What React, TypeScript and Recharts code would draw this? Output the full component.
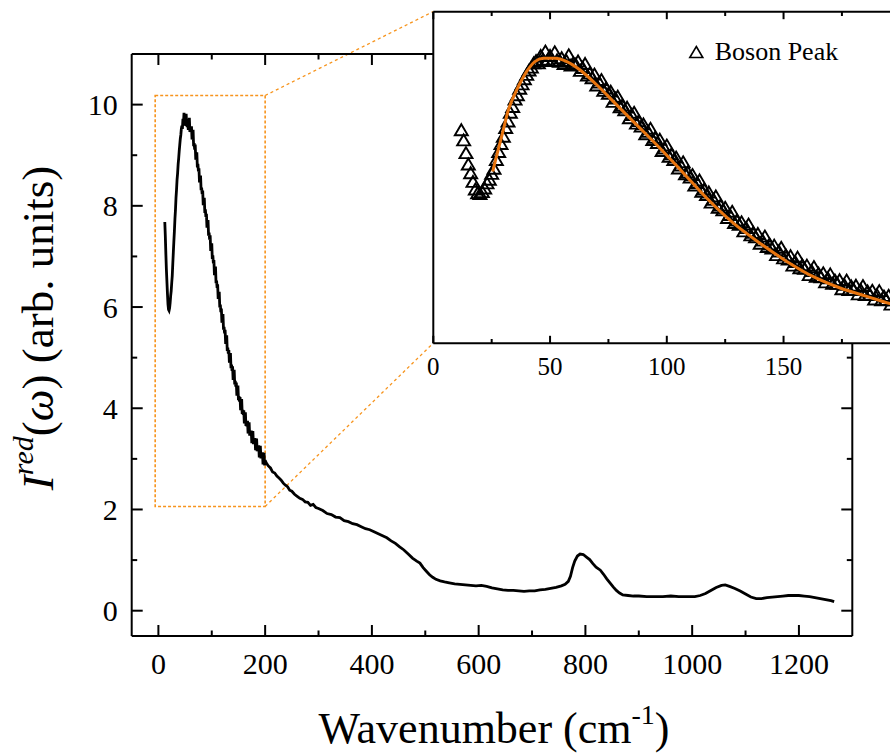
import {
  LineChart,
  ComposedChart,
  Line,
  Scatter,
  XAxis,
  YAxis,
  ReferenceArea,
  ReferenceLine,
  CartesianGrid,
  Legend,
} from 'recharts';

// Reduced Raman intensity, boson peak region (inset triangles + low part of main curve)
const bosonWavenumber = [
  12, 13, 14, 15, 16, 17, 18, 19, 20, 21, 22, 23, 24, 25, 26, 27, 28, 29, 30, 31,
  32, 33, 34, 35, 36, 37, 38, 39, 40, 41, 42, 43, 44, 45, 46, 47, 48, 49, 50, 51,
  52, 53, 54, 55, 56, 57, 58, 59, 60, 61, 62, 63, 64, 65, 66, 67, 68, 69, 70, 71,
  72, 73, 74, 75, 76, 77, 78, 79, 80, 81, 82, 83, 84, 85, 86, 87, 88, 89, 90, 91,
  92, 93, 94, 95, 96, 97, 98, 99, 100, 101, 102, 103, 104, 105, 106, 107, 108, 109,
  110, 111, 112, 113, 114, 115, 116, 117, 118, 119, 120, 121, 122, 123, 124, 125,
  126, 127, 128, 129, 130, 131, 132, 133, 134, 135, 136, 137, 138, 139, 140, 141,
  142, 143, 144, 145, 146, 147, 148, 149, 150, 151, 152, 153, 154, 155, 156, 157,
  158, 159, 160, 161, 162, 163, 164, 165, 166, 167, 168, 169, 170, 171, 172, 173,
  174, 175, 176, 177, 178, 179, 180, 181, 182, 183, 184, 185, 186, 187, 188, 189,
  190, 191, 192, 193, 194, 195, 196, 197, 198, 199, 200,
];
const bosonIntensity = [
  7.68, 7.4, 7.05, 6.74, 6.5, 6.26, 6.05, 5.95, 5.93, 5.98, 6.08, 6.22, 6.32, 6.48,
  6.62, 6.86, 7.08, 7.3, 7.5, 7.74, 7.92, 8.16, 8.32, 8.52, 8.64, 8.82, 8.94, 9.08,
  9.2, 9.32, 9.4, 9.52, 9.58, 9.52, 9.72, 9.62, 9.84, 9.6, 9.72, 9.58, 9.82, 9.6,
  9.56, 9.66, 9.5, 9.58, 9.74, 9.46, 9.52,
  9.48, 9.57, 9.31, 9.39, 9.5, 9.18, 9.24, 9.11, 9.21, 8.91, 8.99, 9.06, 8.76, 8.83,
  8.68, 8.74, 8.46, 8.55, 8.6, 8.31, 8.36, 8.23, 8.3, 8.01, 8.1, 8.16, 7.86, 7.93,
  7.78, 7.84, 7.57, 7.64, 7.72, 7.41, 7.47, 7.33, 7.42, 7.11, 7.18, 7.26, 6.95, 7.02,
  6.86, 6.93, 6.63, 6.71, 6.8, 6.47, 6.52, 6.38, 6.45, 6.16, 6.23, 6.3, 5.99, 6.05,
  5.9, 5.97, 5.69, 5.77, 5.86, 5.55, 5.61, 5.48, 5.55, 5.27, 5.35, 5.44, 5.13, 5.2,
  5.08, 5.15, 4.9, 4.99, 5.09, 4.79, 4.86, 4.74, 4.83, 4.56, 4.65, 4.76, 4.47, 4.54,
  4.43, 4.51, 4.25, 4.35, 4.45, 4.16, 4.24, 4.13, 4.22, 3.96, 4.06, 4.18, 3.89, 3.97,
  3.87, 3.96, 3.7, 3.81, 3.92, 3.65, 3.74, 3.64, 3.75, 3.5, 3.61, 3.72, 3.46, 3.55,
  3.46, 3.56, 3.31, 3.43, 3.55, 3.29, 3.39, 3.3, 3.41, 3.17, 3.29, 3.4, 3.15, 3.25,
  3.16, 3.27, 3.03, 3.15, 3.26, 3.01, 3.11, 3.02, 3.13, 2.89, 3.01, 3.12, 2.87, 2.97,
];

// Rest of the spectrum (main curve above 200 cm-1)
const tailWavenumber = [
  202, 206, 210, 214, 218, 222, 226, 230, 234, 238, 242, 246, 250, 255, 260, 265,
  270, 275, 280, 285, 290, 295, 300, 308, 316, 324, 332, 340, 348, 356, 364, 372,
  380, 388, 396, 404, 412, 420, 428, 436, 444, 452, 460, 468, 476, 484, 490, 496,
  502, 508, 514, 520, 528, 536, 545, 555, 565, 575, 585, 595, 605, 615, 625, 635,
  645, 655, 665, 675, 685, 695, 705, 715, 725, 735, 745, 755, 762, 768, 772, 776,
  780, 785, 790, 796, 802, 808, 814, 820, 828, 834, 840, 846, 852, 858, 864, 870,
  880, 890, 900, 915, 930, 945, 960, 975, 990, 1005, 1015, 1025, 1035, 1045, 1055,
  1062, 1070, 1080, 1090, 1100, 1110, 1120, 1130, 1140, 1150, 1160, 1170, 1180,
  1190, 1200, 1210, 1220, 1230, 1240, 1250, 1260, 1266,
];
const tailIntensity = [
  2.92, 2.86, 2.82, 2.74, 2.72, 2.66, 2.62, 2.58, 2.52, 2.48, 2.45, 2.38, 2.36, 2.3,
  2.26, 2.22, 2.2, 2.15, 2.14, 2.08, 2.1, 2.04, 2.02, 1.98, 1.92, 1.9, 1.85, 1.84,
  1.78, 1.76, 1.72, 1.7, 1.66, 1.62, 1.6, 1.56, 1.52, 1.48, 1.44, 1.38, 1.33, 1.26,
  1.2, 1.12, 1.04, 0.98, 0.94, 0.85, 0.78, 0.71, 0.66, 0.62, 0.59, 0.57, 0.55, 0.53,
  0.52, 0.51, 0.5, 0.49, 0.5, 0.48, 0.45, 0.43, 0.41, 0.4, 0.4, 0.39, 0.38, 0.39,
  0.39, 0.41, 0.42, 0.44, 0.46, 0.49, 0.52, 0.58, 0.68, 0.85, 0.98, 1.08, 1.12, 1.11,
  1.06, 1.01, 0.93, 0.86, 0.8, 0.72, 0.63, 0.55, 0.47, 0.4, 0.35, 0.31, 0.3, 0.29,
  0.29, 0.28, 0.28, 0.28, 0.29, 0.28, 0.28, 0.28, 0.3, 0.34, 0.4, 0.46, 0.5, 0.51,
  0.48, 0.44, 0.39, 0.33, 0.27, 0.24, 0.24, 0.26, 0.27, 0.28, 0.29, 0.3, 0.3, 0.3,
  0.29, 0.28, 0.26, 0.24, 0.22, 0.2, 0.18,
];

// Boson peak fit (orange line in the inset)
const fitWavenumber = [
  25.5, 27, 28.6, 30.5, 32.2, 34, 35.8, 38, 40.1, 43.6, 47.2, 52.2, 57.3, 63, 70,
  78.7, 87.3, 97.3, 107.3, 117.3, 128.8, 140.2, 151.7, 163.1, 174.6, 186, 196, 200,
];
const fitIntensity = [
  6.56, 6.95, 7.34, 7.82, 8.25, 8.55, 8.8, 9.08, 9.31, 9.58, 9.67, 9.67, 9.58, 9.35,
  8.95, 8.39, 7.84, 7.2, 6.52, 5.83, 5.14, 4.59, 4.09, 3.67, 3.36, 3.13, 2.93, 2.86,
];

// axis ticks
const mainXTicks = [0, 100, 200, 300, 400, 500, 600, 700, 800, 900, 1000, 1100, 1200];
const mainXLabels = [0, 200, 400, 600, 800, 1000, 1200];
const mainYTicks = [0, 1, 2, 3, 4, 5, 6, 7, 8, 9, 10];
const mainYLabels = [0, 2, 4, 6, 8, 10];
const insetXTicks = [0, 25, 50, 75, 100, 125, 150, 175];
const insetXLabels = [0, 50, 100, 150];

// zoom box drawn on the main chart and where the inset sits (main data units)
const zoomBox = { x1: -6, x2: 200, y1: 2.06, y2: 10.18 };
const insetCorner = { x: 515.3, yTop: 11.84, yBottom: 5.29 };

const bosonData = bosonWavenumber.map((x, i) => ({ x, y: bosonIntensity[i] }));
const tailData = tailWavenumber.map((x, i) => ({ x, y: tailIntensity[i] }));
const mainData = [...bosonData, ...tailData];
const fitData = fitWavenumber.map((x, i) => ({ x, y: fitIntensity[i] }));

const FONT = '"Liberation Serif", "Times New Roman", serif';
const FIT_ORANGE = '#E8740E';
const BOX_ORANGE = '#F7941D';

const INSET_W = 520;
const INSET_H = 400;
const INSET_MARGIN = { top: 11.7, right: 23.7, bottom: 56.7, left: 30.3 };
const INSET_X_DOMAIN: [number, number] = [0, 200];
const INSET_Y_DOMAIN: [number, number] = [1.84, 10.95];

type Side = 'bottom' | 'top' | 'left' | 'right';

// inward ticks with major/minor lengths, labels only on major ticks
function makeTick(
  side: Side,
  labeled: number[],
  majorLen: number,
  minorLen: number,
  fontSize: number,
  showLabels: boolean,
) {
  return (p: any) => {
    const x = p.x as number;
    const y = p.y as number;
    const v = p.payload.value as number;
    const major = labeled.includes(v);
    const len = major ? majorLen : minorLen;
    let line;
    let label = null;
    if (side === 'bottom') {
      line = <line x1={x} y1={y} x2={x} y2={y - len} />;
      if (showLabels && major)
        label = (
          <text x={x} y={y + fontSize * 1.27} textAnchor="middle">
            {v}
          </text>
        );
    } else if (side === 'top') {
      line = <line x1={x} y1={y} x2={x} y2={y + len} />;
    } else if (side === 'left') {
      line = <line x1={x} y1={y} x2={x + len} y2={y} />;
      if (showLabels && major)
        label = (
          <text x={x - 14} y={y + 10.5} textAnchor="end">
            {v}
          </text>
        );
    } else {
      line = <line x1={x} y1={y} x2={x - len} y2={y} />;
    }
    return (
      <g>
        <g stroke="#000" strokeWidth={2}>{line}</g>
        {label && (
          <g fontFamily={FONT} fontSize={fontSize} fill="#000" stroke="none">
            {label}
          </g>
        )}
      </g>
    );
  };
}

const axisLine = { stroke: '#000', strokeWidth: 2 };

function XTitle(props: any) {
  const vb = props.viewBox;
  return (
    <text
      x={vb.x + vb.width / 2 + 2}
      y={vb.y + 107}
      textAnchor="middle"
      fontFamily={FONT}
      fontSize={44}
      fill="#000"
    >
      Wavenumber (cm
      <tspan fontSize={28} dy={-19}>
        -1
      </tspan>
      <tspan dy={19}>)</tspan>
    </text>
  );
}

function YTitle(props: any) {
  const vb = props.viewBox;
  const cx = vb.x + vb.width - 79;
  const cy = vb.y + vb.height / 2 - 17;
  return (
    <text
      transform={`translate(${cx}, ${cy}) rotate(-90)`}
      textAnchor="middle"
      fontFamily={FONT}
      fontSize={45}
      fill="#000"
    >
      <tspan fontStyle="italic">I</tspan>
      <tspan fontStyle="italic" fontSize={30} dy={-20}>
        red
      </tspan>
      <tspan dy={20}>(</tspan>
      <tspan fontStyle="italic">ω</tspan>
      <tspan>) (arb. units)</tspan>
    </text>
  );
}

function Triangle(props: any) {
  const { cx, cy } = props;
  return (
    <path
      d={`M${cx},${cy - 6.5}L${cx + 6.5},${cy + 4.5}L${cx - 6.5},${cy + 4.5}Z`}
      fill="none"
      stroke="#000"
      strokeWidth={1.9}
    />
  );
}

function BosonLegend() {
  return (
    <svg width={170} height={30} style={{ display: 'block' }}>
      <path d="M13.3,8.5L19.8,19.5L6.8,19.5Z" fill="none" stroke="#000" strokeWidth={1.6} />
      <text x={31.7} y={22} fontFamily={FONT} fontSize={26} fill="#000">
        Boson Peak
      </text>
    </svg>
  );
}

// axes are given 1px so recharts draws them; ticks sit on the axis line
function MainChart() {
  return (
    <LineChart
      width={890}
      height={756}
      data={mainData}
      margin={{ top: 53, right: 36.7, bottom: 119, left: 130.7 }}
    >
      <XAxis
        dataKey="x"
        type="number"
        domain={[-50, 1300]}
        allowDataOverflow
        ticks={mainXTicks}
        interval={0}
        height={1}
        tickSize={0}
        tickMargin={0}
        tickLine={false}
        axisLine={axisLine}
        tick={makeTick('bottom', mainXLabels, 11, 5.5, 30, true)}
        label={{ content: XTitle }}
      />
      <XAxis
        xAxisId="top"
        orientation="top"
        dataKey="x"
        type="number"
        domain={[-50, 1300]}
        allowDataOverflow
        ticks={mainXTicks}
        interval={0}
        height={1}
        tickSize={0}
        tickMargin={0}
        tickLine={false}
        axisLine={axisLine}
        tick={makeTick('top', mainXLabels, 11, 5.5, 30, false)}
      />
      <YAxis
        type="number"
        domain={[-0.5, 11]}
        allowDataOverflow
        ticks={mainYTicks}
        interval={0}
        width={1}
        tickSize={0}
        tickMargin={0}
        tickLine={false}
        axisLine={axisLine}
        tick={makeTick('left', mainYLabels, 11, 5.5, 30, true)}
        label={{ content: YTitle }}
      />
      <YAxis
        yAxisId="right"
        orientation="right"
        type="number"
        domain={[-0.5, 11]}
        allowDataOverflow
        ticks={mainYTicks}
        interval={0}
        width={1}
        tickSize={0}
        tickMargin={0}
        tickLine={false}
        axisLine={axisLine}
        tick={makeTick('right', mainYLabels, 11, 5.5, 30, false)}
      />
      <ReferenceArea
        x1={zoomBox.x1}
        x2={zoomBox.x2}
        y1={zoomBox.y1}
        y2={zoomBox.y2}
        fill="none"
        stroke={BOX_ORANGE}
        strokeWidth={1.6}
        strokeDasharray="3 2"
        ifOverflow="visible"
      />
      <ReferenceLine
        segment={[
          { x: zoomBox.x2, y: zoomBox.y2 },
          { x: insetCorner.x, y: insetCorner.yTop },
        ]}
        stroke={BOX_ORANGE}
        strokeWidth={1.3}
        strokeDasharray="3 3"
        ifOverflow="visible"
      />
      <ReferenceLine
        segment={[
          { x: zoomBox.x2, y: zoomBox.y1 },
          { x: insetCorner.x, y: insetCorner.yBottom },
        ]}
        stroke={BOX_ORANGE}
        strokeWidth={1.3}
        strokeDasharray="3 3"
        ifOverflow="visible"
      />
      <Line
        dataKey="y"
        type="linear"
        stroke="#000"
        strokeWidth={2.8}
        dot={false}
        isAnimationActive={false}
      />
    </LineChart>
  );
}

function InsetChart() {
  const m = {
    top: INSET_MARGIN.top - 1,
    right: INSET_MARGIN.right - 1,
    bottom: INSET_MARGIN.bottom - 1,
    left: INSET_MARGIN.left - 1,
  };
  return (
    <ComposedChart width={INSET_W} height={INSET_H} margin={m}>
      <CartesianGrid horizontal={false} vertical={false} fill="#fff" fillOpacity={1} />
      <XAxis
        dataKey="x"
        type="number"
        domain={INSET_X_DOMAIN}
        allowDataOverflow
        ticks={insetXTicks}
        interval={0}
        height={1}
        tickSize={0}
        tickMargin={0}
        tickLine={false}
        axisLine={axisLine}
        tick={makeTick('bottom', insetXLabels, 7.5, 4.3, 25, true)}
      />
      <XAxis
        xAxisId="top"
        orientation="top"
        dataKey="x"
        type="number"
        domain={INSET_X_DOMAIN}
        allowDataOverflow
        ticks={insetXTicks}
        interval={0}
        height={1}
        tickSize={0}
        tickMargin={0}
        tickLine={false}
        axisLine={axisLine}
        tick={makeTick('top', insetXLabels, 7.5, 4.3, 25, false)}
      />
      <YAxis
        type="number"
        domain={INSET_Y_DOMAIN}
        allowDataOverflow
        width={1}
        tick={false}
        tickLine={false}
        axisLine={axisLine}
      />
      <Scatter
        data={bosonData}
        dataKey="y"
        shape={Triangle}
        isAnimationActive={false}
      />
      <Legend
        layout="horizontal"
        verticalAlign="middle"
        align="center"
        content={BosonLegend}
        wrapperStyle={{ top: 38, left: 280, width: 170, height: 30 }}
      />
    </ComposedChart>
  );
}

// fit line drawn in its own transparent layer so it sits above the triangles
function InsetFitLayer() {
  return (
    <LineChart width={INSET_W} height={INSET_H} margin={INSET_MARGIN} data={fitData}>
      <XAxis dataKey="x" type="number" domain={INSET_X_DOMAIN} allowDataOverflow hide />
      <YAxis type="number" domain={INSET_Y_DOMAIN} allowDataOverflow hide />
      <Line
        dataKey="y"
        type="monotone"
        stroke={FIT_ORANGE}
        strokeWidth={3}
        dot={false}
        isAnimationActive={false}
      />
    </LineChart>
  );
}

export default function App() {
  return (
    <div
      style={{
        position: 'fixed',
        left: 0,
        top: 0,
        width: 890,
        height: 756,
        overflow: 'hidden',
        background: '#fff',
        fontFamily: FONT,
      }}
    >
      <div style={{ position: 'absolute', left: 0, top: 0 }}>
        <MainChart />
      </div>
      <div style={{ position: 'absolute', left: 403, top: 0 }}>
        <InsetChart />
      </div>
      <div style={{ position: 'absolute', left: 403, top: 0, pointerEvents: 'none' }}>
        <InsetFitLayer />
      </div>
    </div>
  );
}
